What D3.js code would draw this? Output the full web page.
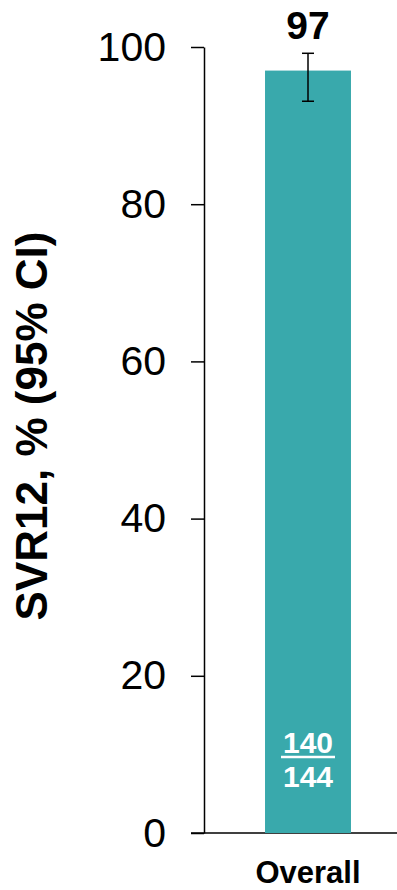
<!DOCTYPE html>
<html>
<head>
<meta charset="utf-8">
<script src="https://cdn.jsdelivr.net/npm/d3@7"></script>
<style>
  body { margin: 0; background: #fff; }
  text { font-family: "Liberation Sans", Arial, sans-serif; }
</style>
</head>
<body>
<div id="chart"></div>
<script>
var categories = ["Overall"];
var values = [97];
var ciLow = [93.1];
var ciHigh = [99.2];
var responders = [140];
var totals = [144];
var yTicks = [0, 20, 40, 60, 80, 100];

var width = 397, height = 890;
var margin = {top: 47, right: 0, bottom: 57, left: 204};

var svg = d3.select("#chart")
    .append("svg")
        .attr("width", width)
        .attr("height", height);

var x = d3.scaleBand()
    .domain(categories)
    .range([margin.left, 412])
    .paddingInner(0)
    .paddingOuter(0.71);

var y = d3.scaleLinear()
    .domain([0, 100])
    .range([height - margin.bottom, margin.top]);

// y axis
var yAxis = svg.append("g")
    .attr("transform", "translate(" + margin.left + ",0)")
    .call(d3.axisLeft(y).tickValues(yTicks).tickSize(13).tickSizeOuter(0).tickPadding(25));

yAxis.selectAll("text")
    .attr("font-size", "41px")
    .attr("fill", "#000")
    .attr("font-family", "Liberation Sans, Arial, sans-serif");
yAxis.selectAll("line, path").attr("stroke", "#000").attr("stroke-width", 1.5);

// x axis line
svg.append("line")
    .attr("x1", margin.left - 13)
    .attr("x2", width)
    .attr("y1", y(0))
    .attr("y2", y(0))
    .attr("stroke", "#000")
    .attr("stroke-width", 1.5);

// bars
svg.selectAll(".bar")
    .data(categories)
    .enter()
    .append("rect")
        .attr("class", "bar")
        .attr("x", function(d) { return x(d); })
        .attr("y", function(d, i) { return y(values[i]); })
        .attr("width", x.bandwidth())
        .attr("height", function(d, i) { return y(0) - y(values[i]); })
        .attr("fill", "#39a9ac");

// error bars
var capW = 6;
categories.forEach(function(c, i) {
    var cx = x(c) + x.bandwidth() / 2;
    var g = svg.append("g").attr("stroke", "#000").attr("stroke-width", 1.5);
    g.append("line").attr("x1", cx).attr("x2", cx).attr("y1", y(ciLow[i])).attr("y2", y(ciHigh[i]));
    g.append("line").attr("x1", cx - capW).attr("x2", cx + capW).attr("y1", y(ciLow[i])).attr("y2", y(ciLow[i]));
    g.append("line").attr("x1", cx - capW).attr("x2", cx + capW).attr("y1", y(ciHigh[i])).attr("y2", y(ciHigh[i]));

    // value label
    svg.append("text")
        .attr("x", cx)
        .attr("y", y(ciHigh[i]) - 14)
        .attr("text-anchor", "middle")
        .attr("font-weight", "bold")
        .attr("font-size", "39px")
        .text(values[i]);

    // n/N fraction
    svg.append("text")
        .attr("x", cx)
        .attr("y", y(0) - 80)
        .attr("text-anchor", "middle")
        .attr("font-weight", "bold")
        .attr("font-size", "30px")
        .attr("fill", "#fff")
        .text(responders[i]);
    svg.append("line")
        .attr("x1", cx - 27)
        .attr("x2", cx + 27)
        .attr("y1", y(0) - 76)
        .attr("y2", y(0) - 76)
        .attr("stroke", "#fff")
        .attr("stroke-width", 2.5);
    svg.append("text")
        .attr("x", cx)
        .attr("y", y(0) - 46)
        .attr("text-anchor", "middle")
        .attr("font-weight", "bold")
        .attr("font-size", "30px")
        .attr("fill", "#fff")
        .text(totals[i]);

    // category label
    svg.append("text")
        .attr("x", cx)
        .attr("y", y(0) + 50)
        .attr("text-anchor", "middle")
        .attr("font-weight", "bold")
        .attr("font-size", "31px")
        .text(c);
});

// y axis title
svg.append("text")
    .attr("transform", "translate(" + 47 + "," + 426 + ") rotate(-90)")
    .attr("text-anchor", "middle")
    .attr("font-weight", "bold")
    .attr("font-size", "44px")
    .text("SVR12, % (95% CI)");
</script>
</body>
</html>
